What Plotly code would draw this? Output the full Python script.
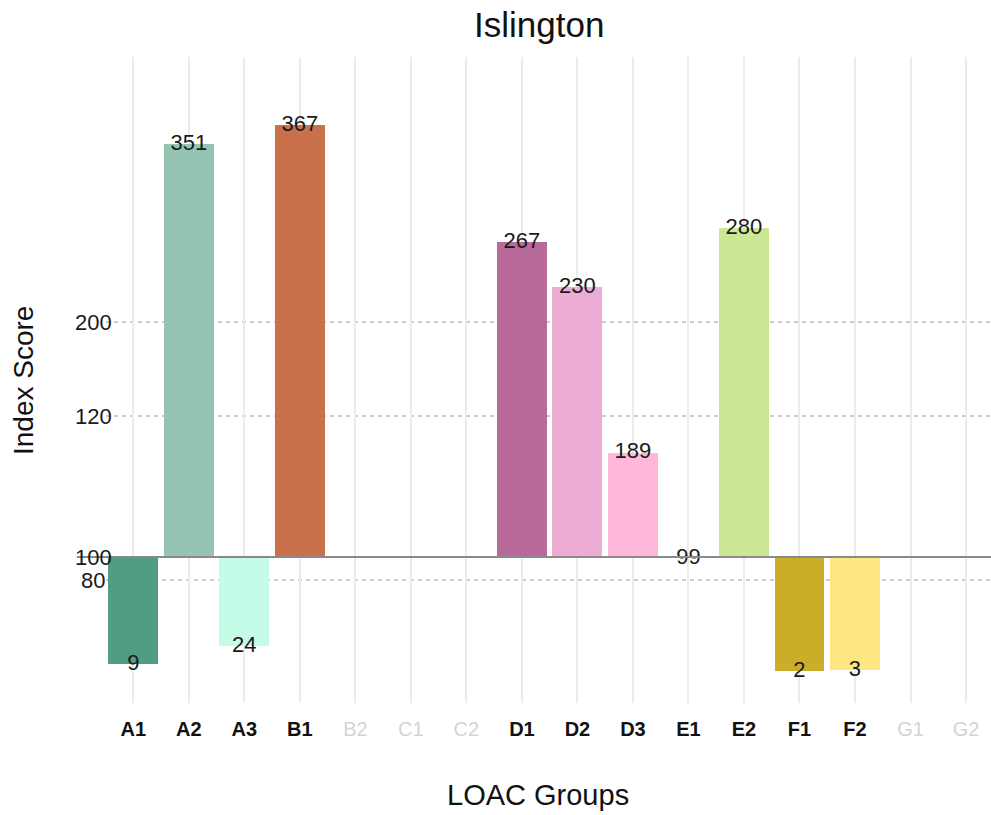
import plotly.graph_objects as go

# ---------------- data ----------------
groups = ["A1", "A2", "A3", "B1", "B2", "C1", "C2", "D1",
          "D2", "D3", "E1", "E2", "F1", "F2", "G1", "G2"]
# index score shown as label (None = no data for this group)
scores = [9, 351, 24, 367, None, None, None, 267,
          230, 189, 99, 280, 2, 3, None, None]
# bar end on the chart's (transformed) index axis; 0 = index 100
bar_ends = [-107, 413, -89, 432, None, None, None, 315,
            270, 104.5, -1, 329, -114, -113, None, None]
bar_colors = ["#529C84", "#96C4B3", "#C4FCE8", "#C8714B", None, None, None, "#B86A9A",
              "#ECACD4", "#FFB8DA", "#CCCCCC", "#CCE896", "#CAAE2A", "#FEE680", None, None]
y_tick_text = ["80", "100", "120", "200"]
y_tick_pos = [-23, 0, 141, 235]

FONT = "Liberation Sans, Arial, Helvetica, sans-serif"
W, H = 991, 815
PLOT_L, PLOT_R, PLOT_T, PLOT_B = 100, 991, 57, 703  # page pixels
ML, MR, MT, MB = PLOT_L, W - PLOT_R, PLOT_T, H - PLOT_B


def pxx(px):
    return (px - PLOT_L) / (PLOT_R - PLOT_L)


def pxy(py):
    return (PLOT_B - py) / (PLOT_B - PLOT_T)


idx = [i for i, s in enumerate(scores) if s is not None]
bx = idx
by = [bar_ends[i] for i in idx]
bc = [bar_colors[i] for i in idx]
bt = [str(scores[i]) for i in idx]

fig = go.Figure()
fig.add_trace(go.Bar(
    x=bx, y=by, base=0, width=0.9,
    marker=dict(color=bc, line=dict(width=0)),
    hoverinfo="skip", showlegend=False,
))
fig.add_trace(go.Scatter(
    x=bx, y=by, mode="text", text=bt,
    textposition="middle center",
    textfont=dict(family=FONT, size=22, color="#1a1a1a"),
    cliponaxis=False, hoverinfo="skip", showlegend=False,
))

ticktext = []
for g, s in zip(groups, scores):
    if s is None:
        ticktext.append(f"<span style='color:#d4d4d4'>{g}</span>")
    else:
        ticktext.append(f"<b>{g}</b>")

shapes = []
# dashed reference lines
for t, p in zip(y_tick_text, y_tick_pos):
    if p == 0:
        continue
    shapes.append(dict(type="line", xref="paper", yref="y",
                       x0=pxx(106), x1=1, y0=p, y1=p,
                       line=dict(color="#9a9a9a", width=1, dash="4px,4px"),
                       layer="below"))
# baseline (index 100)
shapes.append(dict(type="line", xref="paper", yref="y",
                   x0=pxx(77), x1=1, y0=0, y1=0,
                   line=dict(color="#8a8a8a", width=2), layer="above"))

annotations = []
for t, p in zip(y_tick_text, y_tick_pos):
    annotations.append(dict(text=t, xref="paper", yref="y",
                            x=pxx(93), y=p, xanchor="center", yanchor="middle",
                            showarrow=False,
                            font=dict(family=FONT, size=22, color="#1a1a1a")))
# title
annotations.append(dict(text="Islington", xref="paper", yref="paper",
                        x=pxx(539), y=pxy(24),
                        xanchor="center", yanchor="middle", showarrow=False,
                        font=dict(family=FONT, size=35, color="#111111")))
# axis titles
annotations.append(dict(text="LOAC Groups", xref="paper", yref="paper",
                        x=pxx(538), y=pxy(795),
                        xanchor="center", yanchor="middle", showarrow=False,
                        font=dict(family=FONT, size=29, color="#111111")))
annotations.append(dict(text="Index Score", xref="paper", yref="paper",
                        x=pxx(23), y=pxy(381),
                        xanchor="center", yanchor="middle", showarrow=False, textangle=-90,
                        font=dict(family=FONT, size=28, color="#111111")))

fig.update_layout(
    width=W, height=H,
    margin=dict(l=ML, r=MR, t=MT, b=MB, pad=0),
    paper_bgcolor="white", plot_bgcolor="white",
    font=dict(family=FONT, color="#111111"),
    xaxis=dict(range=[-0.6, 15.45], tickmode="array",
               tickvals=list(range(len(groups))), ticktext=ticktext,
               showgrid=True, gridcolor="#EBEBEB", gridwidth=2,
               zeroline=False, showline=False, ticks="",
               ticklabelstandoff=12,
               tickfont=dict(family=FONT, size=20, color="#111111")),
    yaxis=dict(range=[-146, 500], showgrid=False, zeroline=False,
               showline=False, showticklabels=False, ticks=""),
    shapes=shapes, annotations=annotations,
    bargap=0,
)

fig.write_html("out.html",
               config={"displayModeBar": False},
               post_script="document.body.style.margin='0px';document.body.style.overflow='hidden';")
